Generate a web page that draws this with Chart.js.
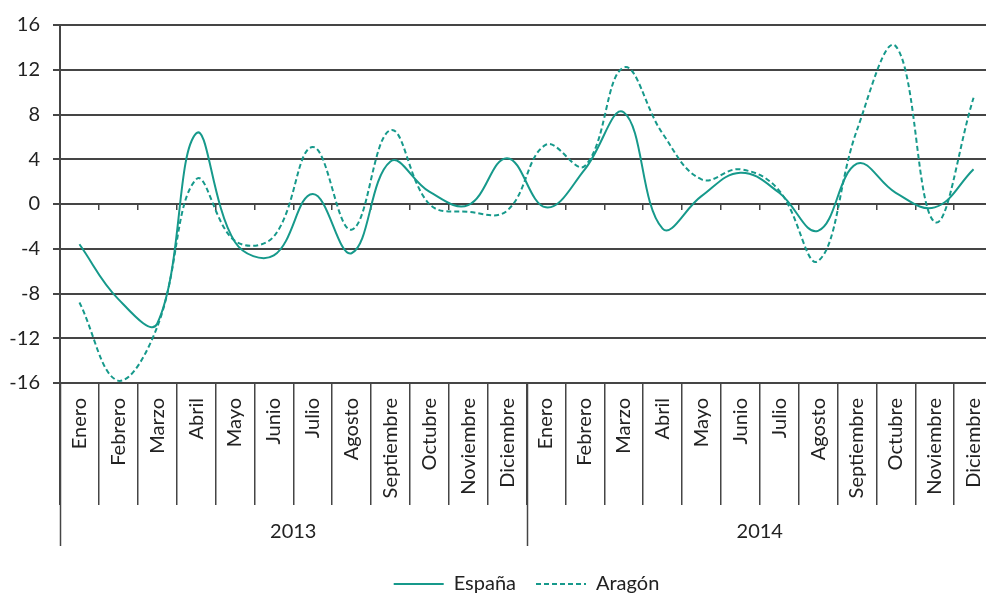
<!DOCTYPE html>
<html>
<head>
<meta charset="utf-8">
<script src="https://cdn.jsdelivr.net/npm/chart.js@4.4.1/dist/chart.umd.min.js"></script>
<style>
html, body { margin: 0; padding: 0; overflow: hidden; background: #fff; }
#wrap { position: relative; width: 1000px; height: 604px; }
</style>
</head>
<body>
<div id="wrap"><canvas id="myChart"></canvas></div>
<script>
// datos
var meses = ["Enero", "Febrero", "Marzo", "Abril", "Mayo", "Junio", "Julio", "Agosto", "Septiembre", "Octubre", "Noviembre", "Diciembre"];
var anios = ["2013", "2014"];
var espana = [-3.6, -8.5, -10.7, 6.3, -3.4, -4.6, 0.9, -4.4, 3.8, 1.1, -0.1, 4.1,
              -0.3, 3.1, 8.2, -2.2, 0.7, 2.8, 1.0, -2.4, 3.6, 1.0, -0.3, 3.1];
var aragon = [-8.8, -15.8, -11.0, 2.2, -3.3, -2.9, 5.1, -2.3, 6.6, 0.0, -0.7, -0.6,
              5.3, 3.4, 12.2, 6.3, 2.2, 3.1, 1.2, -5.1, 6.6, 14.1, -1.6, 9.5];
var ticksY = [-16, -12, -8, -4, 0, 4, 8, 12, 16];

var verde = '#16998B';
var gris = '#454545';
var fuente = { family: 'Lato, "Liberation Sans", sans-serif', size: 20 };

var etiquetas = [];
anios.forEach(function (a) {
    meses.forEach(function (m) { etiquetas.push(m); });
});

// fila de los anios debajo de los meses
var filaAnios = {
    id: 'filaAnios',
    afterDraw: function (chart) {
        var x = chart.scales.x;
        var ctx = chart.ctx;
        var arriba = chart.chartArea.bottom;
        var n = meses.length;
        ctx.save();
        ctx.strokeStyle = gris;
        ctx.lineWidth = 1.5;
        for (var i = 0; i <= anios.length; i++) {
            var px = Math.round(x.getPixelForValue(i * n - 0.5)) + 0.5;
            ctx.beginPath();
            ctx.moveTo(px, arriba);
            ctx.lineTo(px, arriba + 163);
            ctx.stroke();
        }
        ctx.fillStyle = '#222';
        ctx.font = fuente.size + 'px ' + fuente.family;
        ctx.textAlign = 'center';
        ctx.textBaseline = 'middle';
        anios.forEach(function (a, i) {
            var cx = x.getPixelForValue(i * n + (n - 1) / 2);
            ctx.fillText(a, cx, arriba + 149);
        });
        ctx.restore();
    }
};

var ctx = document.getElementById('myChart');

new Chart(ctx, {
    type: 'line',
    data: {
        labels: etiquetas,
        datasets: [
            {
                label: 'España',
                data: espana,
                borderColor: verde,
                backgroundColor: verde,
                borderWidth: 2,
                pointRadius: 0,
                tension: 0.4,
                fill: false
            },
            {
                label: 'Aragón',
                data: aragon,
                borderColor: verde,
                backgroundColor: verde,
                borderWidth: 2,
                borderDash: [5, 3],
                pointRadius: 0,
                tension: 0.4,
                fill: false
            }
        ]
    },
    options: {
        responsive: true,
        maintainAspectRatio: false,
        animation: false,
        layout: { padding: { top: 20, left: 0, right: 7, bottom: 0 } },
        plugins: {
            tooltip: { enabled: false },
            legend: {
                position: 'bottom',
                fullSize: false,
                labels: {
                    usePointStyle: true,
                    pointStyle: 'line',
                    pointStyleWidth: 50,
                    padding: 20,
                    color: '#222',
                    font: fuente,
                    // el trazo discontinuo no pasa solo a la leyenda
                    generateLabels: function (chart) {
                        var items = Chart.defaults.plugins.legend.labels.generateLabels(chart);
                        items.forEach(function (it) {
                            var ds = chart.data.datasets[it.datasetIndex];
                            it.lineDash = ds.borderDash || [];
                            it.strokeStyle = ds.borderColor;
                            it.lineWidth = ds.borderWidth;
                        });
                        return items;
                    }
                }
            }
        },
        scales: {
            y: {
                min: -16,
                max: 16,
                afterBuildTicks: function (s) {
                    s.ticks = ticksY.map(function (v) { return { value: v }; });
                },
                afterFit: function (s) { s.width = 60; },
                grid: { color: gris, lineWidth: 2, tickLength: 7 },
                border: { color: gris, width: 2 },
                ticks: { color: '#222', font: fuente, padding: 13 }
            },
            x: {
                position: 'bottom',
                offset: true,
                afterFit: function (s) { s.height = 171; },
                grid: { offset: true, drawOnChartArea: false, tickLength: 122, color: gris, lineWidth: 1.5 },
                border: { display: false },
                ticks: {
                    autoSkip: false,
                    minRotation: 90,
                    maxRotation: 90,
                    padding: -107,
                    color: '#222',
                    font: fuente
                }
            },
            x0: {
                type: 'category',
                position: { y: 0 },
                offset: true,
                grid: { offset: true, drawOnChartArea: false, tickLength: 6, color: gris, lineWidth: 1.5 },
                border: { display: false },
                ticks: { display: false }
            }
        }
    },
    plugins: [filaAnios]
});
</script>
</body>
</html>
